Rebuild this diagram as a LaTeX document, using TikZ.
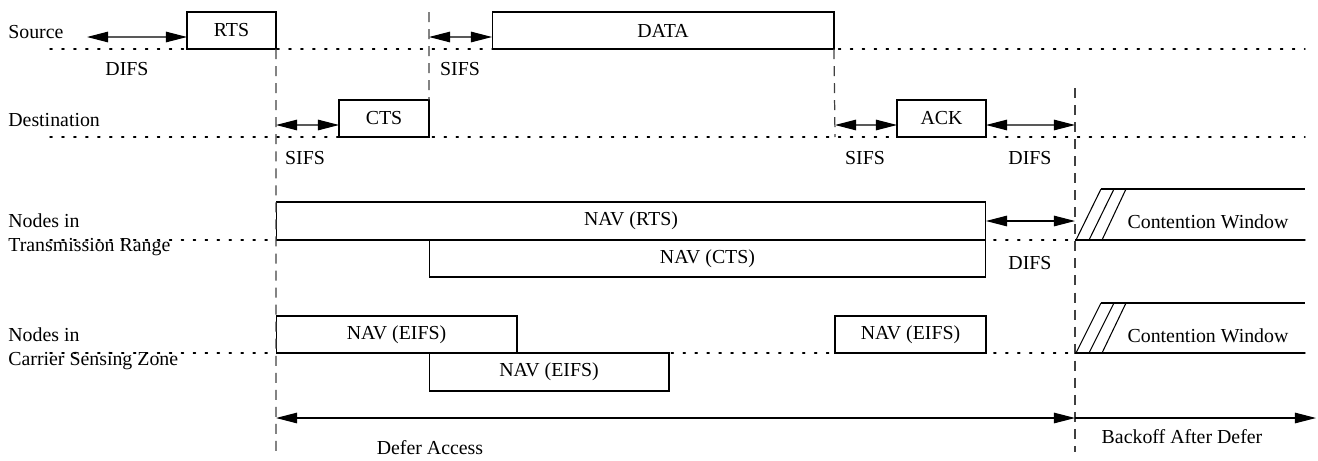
\documentclass[tikz,border=0pt]{standalone}
\usepackage{fontspec}
\setmainfont{Liberation Serif}
\usetikzlibrary{arrows.meta}
\tikzset{
    frame/.style={rectangle,draw,inner sep=0pt,outer sep=0pt,line width=0.6pt},
    lbl/.style={inner sep=0pt},
    rowlbl/.style={inner sep=0pt,anchor=west,align=left},
    span/.style={line width=0.6pt,arrows={Triangle[length=12pt,width=6pt]-Triangle[length=12pt,width=6pt]}},
    onespan/.style={line width=0.6pt,arrows={-Triangle[length=12pt,width=6pt]}},
    vline/.style={line width=0.7pt,dash pattern=on 5.7pt off 4pt,draw=black!75},
    rowline/.style={line width=0.8pt,dash pattern=on 1.2pt off 5.6pt,line cap=round},
    plain/.style={line width=0.6pt},
    }
\begin{document}
\begin{tikzpicture}[x=0.02cm,y=-0.02cm,font=\fontsize{11.3}{13.6}\selectfont]
    \useasboundingbox (0,0) rectangle (1318,460);

    % rows
    \draw[rowline] (50,49) -- (1305,49);
    \draw[rowline] (50,137) -- (1305,137);
    \draw[rowline] (50,240) -- (1305,240);
    \draw[rowline] (50,353) -- (1305,353);

    \node[rowlbl] (src) at (8,32) {Source};
    \node[rowlbl] (dst) at (8,120) {Destination};
    \node[rowlbl] (trr) at (8,235) {Nodes in\\Transmission Range};
    \node[rowlbl] (csz) at (8,349) {Nodes in\\Carrier Sensing Zone};

    % frames
    \node[frame,minimum width=1.78cm,minimum height=0.74cm] (rts) at (231.5,30.5) {RTS};
    \node[frame,minimum width=6.84cm,minimum height=0.74cm] (data) at (663,30.5) {DATA};
    \node[frame,minimum width=1.8cm,minimum height=0.74cm] (cts) at (384,118.5) {CTS};
    \node[frame,minimum width=1.78cm,minimum height=0.74cm] (ack) at (941.5,118.5) {ACK};
    \node[frame,minimum width=14.2cm,minimum height=0.76cm] (navrts) at (631,221) {NAV (RTS)};
    \node[frame,minimum width=11.14cm,minimum height=0.74cm] (navcts) at (707.5,258.5) {NAV (CTS)};
    \node[frame,minimum width=4.82cm,minimum height=0.74cm] (eifsa) at (396.5,334.5) {NAV (EIFS)};
    \node[frame,minimum width=4.8cm,minimum height=0.76cm] (eifsb) at (549,372) {NAV (EIFS)};
    \node[frame,minimum width=3.02cm,minimum height=0.74cm] (eifsc) at (910.5,334.5) {NAV (EIFS)};

    % time marks
    \coordinate (ta) at (276,452);
    \coordinate (tb) at (429,12);
    \coordinate (tc) at (835,137);
    \coordinate (tdtop) at (1075,88);
    \coordinate (tdbot) at (1075,452);
    \draw[vline] (rts.south east) -- (ta);
    \draw[vline] (tb) -- (cts.north east);
    \draw[vline] (data.south east) -- (tc);
    \draw[vline] (tdtop) -- (tdbot);

    % gaps
    \coordinate (difsa) at (87,37);
    \coordinate (sifsa) at (429,37);
    \coordinate (sifsb) at (276,125);
    \coordinate (sifsc) at (835,125);
    \coordinate (difsb) at (1075,125);
    \coordinate (difsc) at (1075,221);
    \draw[span] (difsa) -- ([yshift=-1.3mm]rts.west);
    \draw[span] (sifsa) -- ([yshift=-1.3mm]data.west);
    \draw[span] (sifsb) -- ([yshift=-1.3mm]cts.west);
    \draw[span] (sifsc) -- ([yshift=-1.3mm]ack.west);
    \draw[span] ([yshift=-1.3mm]ack.east) -- (difsb);
    \draw[span] (navrts.east) -- (difsc);

    \node[lbl] at (127,69) {DIFS};
    \node[lbl] at (460,69) {SIFS};
    \node[lbl] at (305,158) {SIFS};
    \node[lbl] at (865,158) {SIFS};
    \node[lbl] at (1030,158) {DIFS};
    \node[lbl] at (1030,263) {DIFS};

    % contention windows
    \draw[plain] (1101,189) -- (1305,189);
    \draw[plain] (1075,240) -- (1305,240);
    \draw[plain] (1076,240) -- (1101,189);
    \draw[plain] (1089,240) -- (1114,189);
    \draw[plain] (1102,240) -- (1126,189);
    \node[lbl] (cwa) at (1208,222) {Contention Window};

    \draw[plain] (1101,303) -- (1305,303);
    \draw[plain] (1075,353) -- (1305,353);
    \draw[plain] (1076,353) -- (1101,303);
    \draw[plain] (1089,353) -- (1114,303);
    \draw[plain] (1102,353) -- (1126,303);
    \node[lbl] (cwb) at (1208,336) {Contention Window};

    % defer and backoff
    \coordinate (defera) at (276,418);
    \coordinate (deferb) at (1075,418);
    \coordinate (backoff) at (1316,418);
    \draw[span] (defera) -- (deferb);
    \draw[onespan] (deferb) -- (backoff);
    \node[lbl] at (430,448) {Defer Access};
    \node[lbl] at (1182,437) {Backoff After Defer};
\end{tikzpicture}
\end{document}
